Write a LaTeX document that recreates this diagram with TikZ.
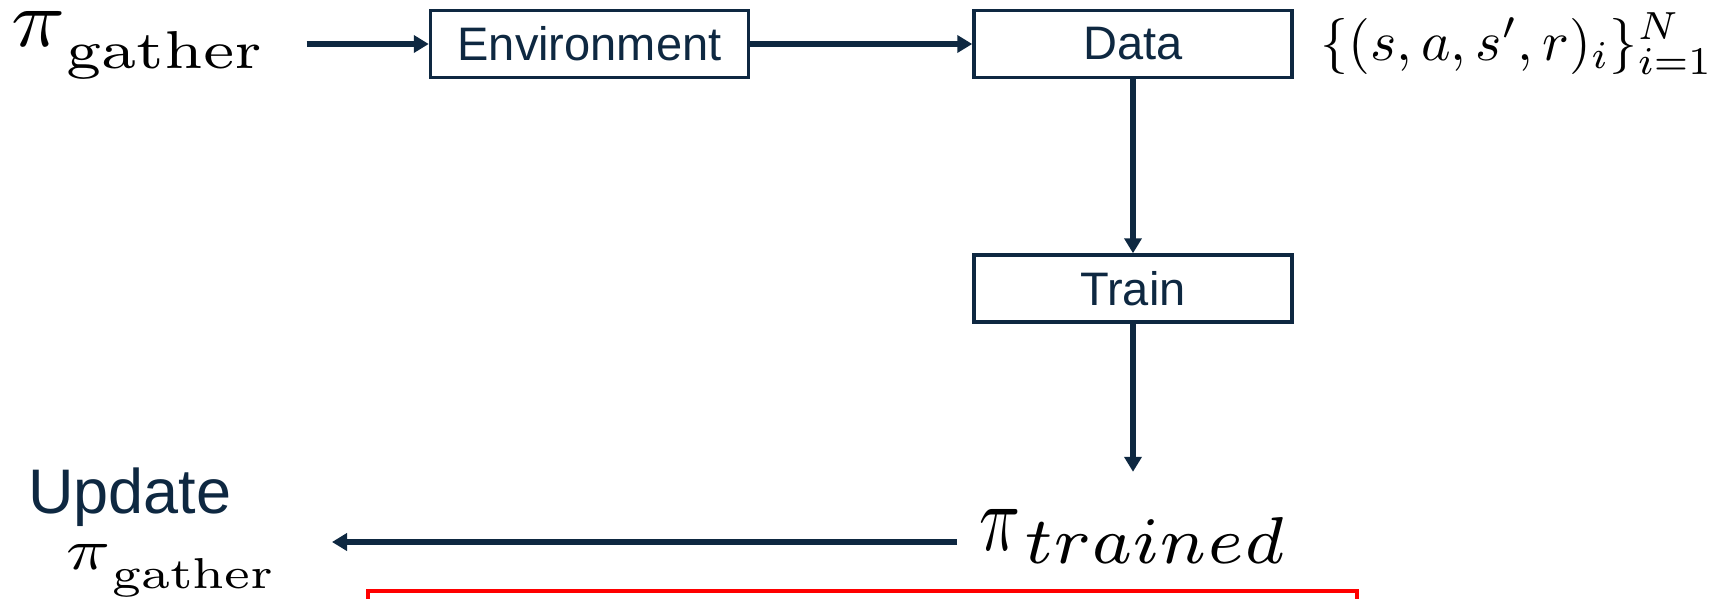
\documentclass[tikz,border=0pt]{standalone}
\usepackage{fontspec}
\setsansfont{Liberation Sans}
\usepackage{graphicx}
\usetikzlibrary{arrows.meta}
\definecolor{navy}{HTML}{0E2841}
\newcommand\pisub[7]{\resizebox{#1pt}{#2pt}{$\pi$}\kern#7pt\raisebox{-#5pt}{\resizebox{#3pt}{#4pt}{#6}}}
\begin{document}
\begin{tikzpicture}[x=1pt,y=-1pt,
  box/.style={draw=navy, line width=3.5pt, minimum width=318pt, minimum height=67pt, inner sep=0pt, font=\sffamily\fontsize{47}{50}\selectfont, text=navy},
  arr/.style={draw=navy, line width=5.5pt, -{Triangle[length=15pt,width=17pt]}},
  lbl/.style={inner sep=0pt, anchor=base west}]
\useasboundingbox (0,0) rectangle (1733,598);
\clip (0,0) rectangle (1733,598);
\node[lbl] (pig) at (11,46) {\pisub{54}{35}{196}{37}{22}{\fontsize{7}{8}\selectfont gather}{1}};
\node[box] (env) at (589.5,44) {Environment};
\node[box] (data) at (1133,44) {Data};
\node[lbl] (set) at (1320,60) {\resizebox{393pt}{!}{$\{(s,a,s',r)_i\}_{i=1}^N$}};
\node[box] (train) at (1133,288.5) {Train};
\node[lbl] (trained) at (979,550) {\pisub{41}{41}{260}{46}{13}{\fontsize{7}{8}\selectfont$trained$}{4}};
\node[lbl, font=\sffamily\fontsize{63}{70}\selectfont, text=navy] (upd) at (28,513) {Update};
\node[lbl] (pig2) at (66,569) {\pisub{44}{25}{161}{30}{19}{\fontsize{7}{8}\selectfont gather}{2}};
\coordinate (back) at (332,542);
\draw[arr, shorten <=44pt] (pig.east |- env.west) -- (env.west);
\draw[arr] (env.east) -- (data.west);
\draw[arr] (data.south) -- (train.north);
\draw[arr, shorten >=37pt] (train.south) -- (train.south |- trained.north);
\draw[arr, shorten <=22pt] (trained.west |- back) -- (back);
\draw[red, line width=4pt] (368,591) rectangle (1357,650);
\end{tikzpicture}
\end{document}
